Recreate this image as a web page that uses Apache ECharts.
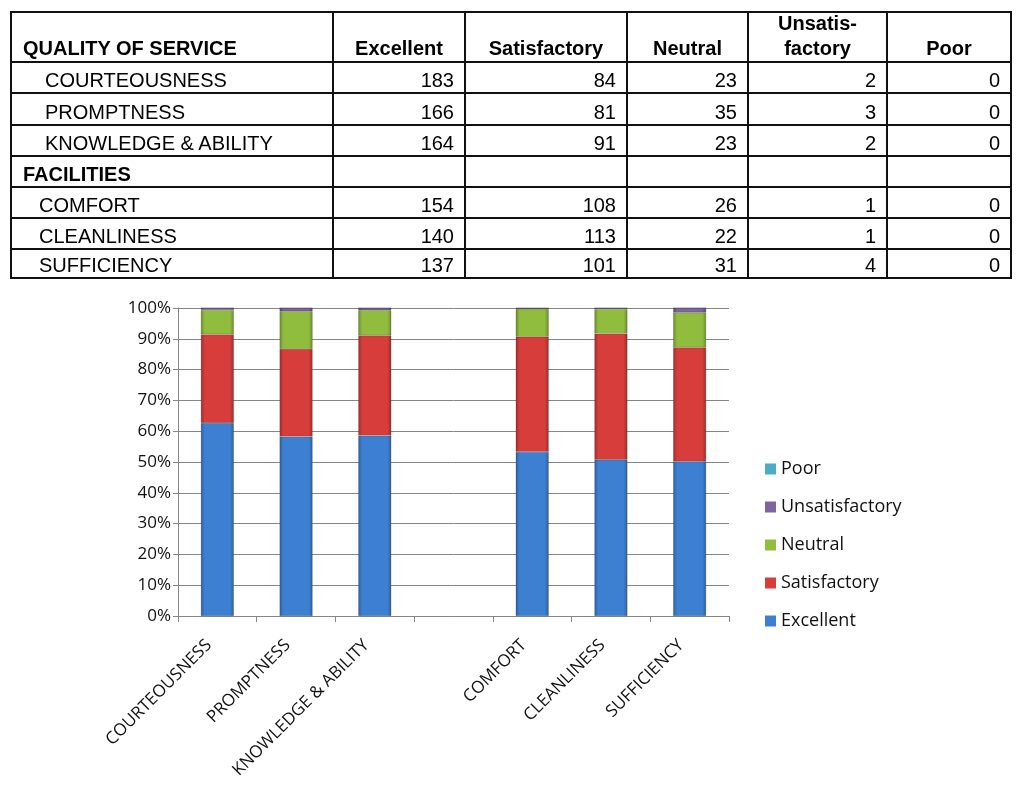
<!DOCTYPE html>
<html>
<head>
<meta charset="utf-8">
<script src="https://cdn.jsdelivr.net/npm/echarts@6/dist/echarts.min.js"></script>
<style>
  html, body { margin: 0; padding: 0; background: #fff; }
  #wrap { position: relative; width: 1029px; height: 802px; overflow: hidden; }
  #chart { position: absolute; left: 0; top: 0; width: 1029px; height: 802px; }
  #table { position: absolute; left: 0; top: 0; width: 1029px; height: 290px; font-family: "Liberation Sans", Arial, sans-serif; color: #000; }
  .hl { position: absolute; height: 2px; background: #111; }
  .vl { position: absolute; width: 2px; background: #111; }
  .cell { position: absolute; display: flex; align-items: flex-end; box-sizing: border-box; font-size: 20px; line-height: 20px; white-space: nowrap; }
  .hdr { font-weight: bold; line-height: 25px; justify-content: center; text-align: center; }
  .num { justify-content: flex-end; }
</style>
</head>
<body>
<div id="wrap">
  <div id="chart"></div>
  <div id="table"></div>
</div>
<script>
// ---- data ----
const seriesNames = ['Excellent', 'Satisfactory', 'Neutral', 'Unsatisfactory', 'Poor'];
const headerLabels = ['Excellent', 'Satisfactory', 'Neutral', 'Unsatis-<br>factory', 'Poor'];
const group1 = 'QUALITY OF SERVICE';
const group2 = 'FACILITIES';
const categories = ['COURTEOUSNESS', 'PROMPTNESS', 'KNOWLEDGE & ABILITY', '', 'COMFORT', 'CLEANLINESS', 'SUFFICIENCY'];
const excellent      = [183, 166, 164, null, 154, 140, 137];
const satisfactory   = [84, 81, 91, null, 108, 113, 101];
const neutral        = [23, 35, 23, null, 26, 22, 31];
const unsatisfactory = [2, 3, 2, null, 1, 1, 4];
const poor           = [0, 0, 0, null, 0, 0, 0];
const yTicks = ['0%', '10%', '20%', '30%', '40%', '50%', '60%', '70%', '80%', '90%', '100%'];

const allSeries = [excellent, satisfactory, neutral, unsatisfactory, poor];

// ---- table (HTML) ----
(function buildTable() {
  const t = document.getElementById('table');
  const colEdges = [11, 333, 465, 627, 748, 887, 1011];
  const rowEdges = [12, 62, 93, 125, 156, 187, 218, 249, 278];
  rowEdges.forEach(y => {
    const d = document.createElement('div');
    d.className = 'hl';
    d.style.left = (colEdges[0] - 1) + 'px';
    d.style.width = (colEdges[colEdges.length - 1] - colEdges[0] + 2) + 'px';
    d.style.top = (y - 1) + 'px';
    t.appendChild(d);
  });
  colEdges.forEach(x => {
    const d = document.createElement('div');
    d.className = 'vl';
    d.style.left = (x - 1) + 'px';
    d.style.top = (rowEdges[0] - 1) + 'px';
    d.style.height = (rowEdges[rowEdges.length - 1] - rowEdges[0] + 2) + 'px';
    t.appendChild(d);
  });
  function cell(r, c, html, cls, padL, padR, padB) {
    const d = document.createElement('div');
    d.className = 'cell ' + (cls || '');
    d.style.left = (colEdges[c] + 1) + 'px';
    d.style.width = (colEdges[c + 1] - colEdges[c] - 2) + 'px';
    d.style.top = (rowEdges[r] + 1) + 'px';
    d.style.height = (rowEdges[r + 1] - rowEdges[r] - 2) + 'px';
    d.style.paddingLeft = (padL || 0) + 'px';
    d.style.paddingRight = (padR || 0) + 'px';
    d.style.paddingBottom = (padB || 0) + 'px';
    d.innerHTML = html;
    t.appendChild(d);
  }
  // header row
  cell(0, 0, group1, 'hdr', 11, 0, 0);
  t.lastChild.style.justifyContent = 'flex-start';
  headerLabels.forEach((h, i) => cell(0, i + 1, h, 'hdr', 0, 0, 0));
  // rows
  let r = 1;
  categories.forEach((cat, i) => {
    if (cat === '') {
      cell(r, 0, group2, 'hdr', 11, 0, 2);
      t.lastChild.style.justifyContent = 'flex-start';
      t.lastChild.style.lineHeight = '20px';
      r++;
      return;
    }
    const indent = i < 3 ? 33 : 27;
    cell(r, 0, cat, '', indent, 0, 2);
    allSeries.forEach((s, k) => cell(r, k + 1, String(s[i]), 'num', 0, 10, 2));
    r++;
  });
})();

// ---- chart ----
const totals = categories.map((c, i) => {
  if (excellent[i] == null) return null;
  return allSeries.reduce((a, s) => a + s[i], 0);
});
const pct = arr => arr.map((v, i) => (v == null ? null : (v / totals[i]) * 100));

function grad(edge, mid) {
  return new echarts.graphic.LinearGradient(0, 0, 1, 0, [
    { offset: 0, color: edge },
    { offset: 0.12, color: mid },
    { offset: 0.88, color: mid },
    { offset: 1, color: edge }
  ]);
}
const colors = [
  grad('#2d5f9e', '#3d80d2'),
  grad('#a02c2a', '#d63d3b'),
  grad('#6a8c2c', '#91bd3f'),
  grad('#5a4180', '#8064a2'),
  grad('#2f8aa3', '#4bacc6')
];
const legendColors = ['#3d80d2', '#d63d3b', '#91bd3f', '#8064a2', '#4bacc6'];

const chart = echarts.init(document.getElementById('chart'), null, { renderer: 'canvas' });
const font = '"Open Sans", "Noto Sans", sans-serif';
chart.setOption({
  animation: false,
  backgroundColor: '#fff',
  grid: { left: 178, right: 300, top: 308, bottom: 186, containLabel: false },
  legend: {
    orient: 'vertical',
    left: 760,
    top: 455,
    itemWidth: 11,
    itemHeight: 11,
    itemGap: 20,
    icon: 'rect',
    data: seriesNames.slice().reverse().map(n => ({
      name: n,
      itemStyle: { color: legendColors[seriesNames.indexOf(n)], borderWidth: 0 }
    })),
    textStyle: { fontFamily: font, fontSize: 18, color: '#111' }
  },
  xAxis: {
    type: 'category',
    data: categories,
    boundaryGap: true,
    axisLine: { lineStyle: { color: '#868686', width: 1 } },
    axisTick: { show: true, alignWithLabel: false, length: 6, lineStyle: { color: '#868686' } },
    axisLabel: { interval: 0, rotate: 45, margin: 18, padding: [0, 12, 0, 0], fontFamily: font, fontSize: 17, color: '#111' },
    splitLine: { show: false }
  },
  yAxis: {
    type: 'value',
    min: 0,
    max: 100,
    interval: 10,
    axisLine: { show: true, lineStyle: { color: '#868686', width: 1 } },
    axisTick: { show: true, length: 5, lineStyle: { color: '#868686' } },
    axisLabel: {
      margin: 7, fontFamily: font, fontSize: 17, color: '#111',
      formatter: v => yTicks[Math.round(v / 10)]
    },
    splitLine: { show: true, lineStyle: { color: '#868686', width: 1 } }
  },
  series: seriesNames.map((name, k) => ({
    name,
    type: 'bar',
    stack: 'total',
    barWidth: '42%',
    data: pct(allSeries[k]),
    itemStyle: { color: colors[k], borderColor: 'rgba(40,40,40,0.35)', borderWidth: 0.6 }
  })),
  color: legendColors
});
</script>
</body>
</html>
